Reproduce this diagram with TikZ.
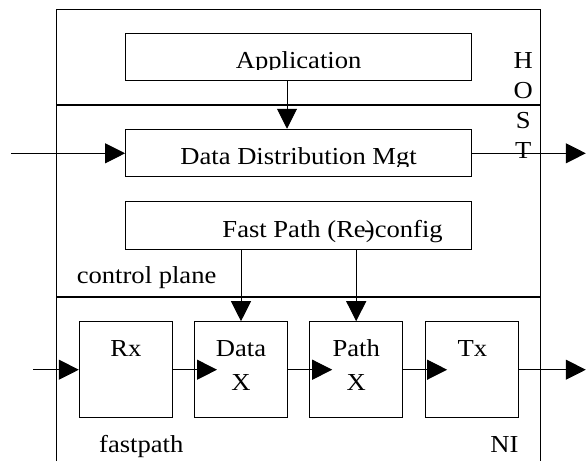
\documentclass[tikz,border=0pt]{standalone}
\usepackage{fontspec}
\setmainfont{Liberation Serif}
\usepackage{graphicx}
\usetikzlibrary{arrows.meta}
\newcommand{\wide}[1]{\scalebox{1.09}[1]{#1}}
\tikzset{
    box/.style={draw, line width=1pt, inner sep=0pt, minimum width=346pt, minimum height=47.5pt}, % host boxes
    block/.style={draw, line width=1pt, inner sep=0pt, minimum width=93pt, minimum height=96pt}, % fastpath stages
    txt/.style={inner sep=0pt, anchor=base, font=\fontsize{24.4}{29}\selectfont},
    flow/.style={line width=1pt, -{Triangle[length=20pt, width=20pt]}},
    frame/.style={line width=1.3pt},
    divider/.style={line width=2.3pt}
}
\begin{document}
\begin{tikzpicture}[x=1pt, y=-1pt]
    \useasboundingbox (0,0) rectangle (586,461);
    \def\fl{56.7} \def\fr{540.5}

    % outer frame and planes
    \draw[frame] (\fl,461) -- (\fl,9.3) -- (\fr,9.3) -- (\fr,461);
    \draw[divider] (\fl,105.3) -- (\fr,105.3);
    \draw[divider] (\fl,296.8) -- (\fr,296.8);

    \node[box] (app) at (298.6,57.2) {};
    \node[box] (ddm) at (298.6,153) {};
    \node[box] (cfg) at (298.6,225.3) {};
    \foreach \n/\x in {rx/125.8, datax/241, pathx/356.2, tx/471.6} {\node[block] (\n) at (\x,369.7) {};}

    % descenders are cut off in the first two boxes
    \begin{scope}
        \clip (0,0) rectangle (586,69.3);
        \node[txt] (applbl) at (298.6,68.3) {\wide{Application}};
    \end{scope}
    \begin{scope}
        \clip (0,100) rectangle (586,166);
        \node[txt] (ddmlbl) at (298.6,164.8) {\wide{Data Distribution Mgt}};
    \end{scope}
    \node[txt] (cfglbl) at (332.6,237.8) {\wide{Fast Path (Re\kern-1.5pt-\kern-6.5pt)config}};
    \node[txt, anchor=base west] (ctrllbl) at (76.6,283.5) {\wide{control plane}};
    \foreach \c/\y in {H/68.3, O/98.3, S/128.3, T/158.7} {\node[txt] (host\c) at (523.3,\y) {\wide{\c}};}
    \node[txt] (rxlbl) at (125.8,356.9) {\wide{Rx}};
    \node[txt] (datalbl) at (241,356.9) {\wide{Data}};
    \node[txt] (dataxlbl) at (241,390.3) {\wide{X}};
    \node[txt] (pathlbl) at (356.2,356.9) {\wide{Path}};
    \node[txt] (pathxlbl) at (356.2,390.3) {\wide{X}};
    \node[txt] (txlbl) at (472.3,356.9) {\wide{Tx}};
    \node[txt, anchor=base west] (fplbl) at (99,452) {\wide{fastpath}};
    \node[txt, anchor=base east] (nilbl) at (518.7,452) {\wide{NI}};

    \coordinate (ddmin) at (11.2,153.3);
    \coordinate (ddmout) at (585.8,153.3);
    \coordinate (fpin) at (33.3,369.7);
    \coordinate (fpout) at (585.8,369.7);

    % control plane
    \draw[flow] ([xshift=-11.6pt]app.south) -- ([xshift=-11.6pt]ddm.north);
    \draw[flow] (ddmin) -- (ddmin -| ddm.west);
    \draw[flow] (ddm.east |- ddmout) -- (ddmout);
    \draw[flow] (cfg.south -| datax.north) -- (datax.north);
    \draw[flow] (cfg.south -| pathx.north) -- (pathx.north);

    % fastpath
    \draw[flow] (fpin) -- (rx.west);
    \draw[flow, shorten >=-23pt] (rx.east) -- (datax.west);
    \draw[flow, shorten >=-23pt] (datax.east) -- (pathx.west);
    \draw[flow, shorten >=-22.5pt] (pathx.east) -- (tx.west);
    \draw[flow] (tx.east) -- (fpout);
\end{tikzpicture}
\end{document}
